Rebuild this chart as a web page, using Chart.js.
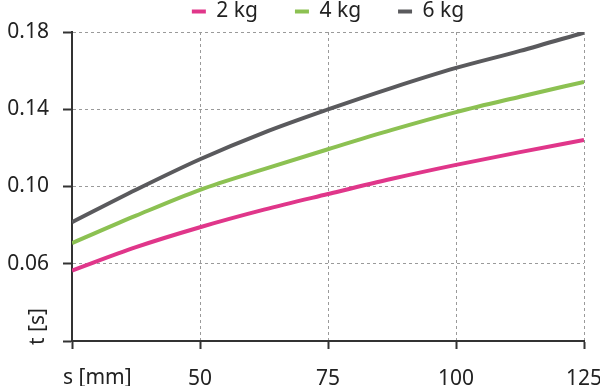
<!DOCTYPE html>
<html>
<head>
<meta charset="utf-8">
<script src="https://cdn.jsdelivr.net/npm/chart.js@4/dist/chart.umd.min.js"></script>
<style>
  html, body { margin: 0; padding: 0; background: #fff; }
  #wrap { width: 600px; height: 386px; }
</style>
</head>
<body>
<div id="wrap"><canvas id="chart" width="600" height="386"></canvas></div>
<script>
// stroke s [mm] and time t [s]
const strokes = [25, 37.5, 50, 62.5, 75, 87.5, 100, 112.5, 125];
const t2kg = [0.0565, 0.0686, 0.0789, 0.0880, 0.0961, 0.1040, 0.1112, 0.1178, 0.1241];
const t4kg = [0.0707, 0.0849, 0.0983, 0.1090, 0.1193, 0.1293, 0.1385, 0.1465, 0.1542];
const t6kg = [0.0815, 0.0983, 0.1141, 0.1279, 0.1399, 0.1511, 0.1614, 0.1702, 0.1797];
const seriesNames = ['2 kg', '4 kg', '6 kg'];
const seriesColors = ['#e0368a', '#8cc152', '#5a5a5d'];
const xTicks = [25, 50, 75, 100, 125];
const yTicks = [0.02, 0.06, 0.10, 0.14, 0.18];

const FONT = '"Noto Sans", "DejaVu Sans", sans-serif';
const TEXT = '#222222';

const toPoints = arr => strokes.map((s, i) => ({ x: s, y: arr[i] }));

// axis names sit where the first tick labels would be
const axisNames = {
  id: 'axisNames',
  afterDraw(chart) {
    const { ctx, scales } = chart;
    ctx.save();
    ctx.font = '21px ' + FONT;
    ctx.fillStyle = TEXT;
    ctx.textBaseline = 'middle';
    ctx.textAlign = 'left';
    ctx.fillText('s [mm]', scales.x.left - 9, scales.x.top + 37);
    ctx.translate(38, scales.y.bottom + 4);
    ctx.rotate(-Math.PI / 2);
    ctx.fillText('t [s]', 0, 0);
    ctx.restore();
  }
};

new Chart(document.getElementById('chart'), {
  type: 'line',
  data: {
    datasets: [t2kg, t4kg, t6kg].map((arr, i) => ({
      label: seriesNames[i],
      data: toPoints(arr),
      borderColor: seriesColors[i],
      backgroundColor: seriesColors[i],
      borderWidth: 4,
      pointRadius: 0,
      tension: 0.4,
      cubicInterpolationMode: 'monotone'
    }))
  },
  options: {
    responsive: false,
    animation: false,
    layout: { padding: { top: -36, right: 16, bottom: 0, left: 0 } },
    plugins: {
      tooltip: { enabled: false },
      legend: {
        position: 'top',
        fullSize: false,
        labels: {
          boxWidth: 14,
          boxHeight: 4,
          padding: 37,
          color: TEXT,
          font: { family: FONT, size: 21 },
          generateLabels: chart =>
            Chart.defaults.plugins.legend.labels.generateLabels(chart)
              .map(l => ({ ...l, lineWidth: 0 }))
        }
      }
    },
    scales: {
      x: {
        type: 'linear',
        min: 25,
        max: 125,
        afterBuildTicks: s => { s.ticks = xTicks.map(v => ({ value: v })); },
        afterFit: s => { s.height = 45; s.paddingLeft = 0; s.paddingRight = 0; },
        ticks: {
          padding: 17,
          maxRotation: 0,
          color: TEXT,
          font: { family: FONT, size: 21 },
          callback: v => (v === 25 ? '' : v)
        },
        grid: { color: '#9a9a9a', lineWidth: 1, tickColor: '#333', tickWidth: 2, tickLength: 8, tickBorderDash: [] },
        border: { color: '#333', width: 2, dash: [3, 3] }
      },
      y: {
        min: 0.02,
        max: 0.18,
        afterBuildTicks: s => { s.ticks = yTicks.map(v => ({ value: v })); },
        afterFit: s => { s.width = 72; },
        ticks: {
          padding: 14,
          color: TEXT,
          font: { family: FONT, size: 21 },
          callback: v => (Math.abs(v - 0.02) < 1e-9 ? '' : v.toFixed(2))
        },
        grid: { color: '#9a9a9a', lineWidth: 1, tickColor: '#333', tickWidth: 2, tickLength: 9, tickBorderDash: [] },
        border: { color: '#333', width: 2, dash: [3, 3] }
      }
    }
  },
  plugins: [axisNames]
});
</script>
</body>
</html>
